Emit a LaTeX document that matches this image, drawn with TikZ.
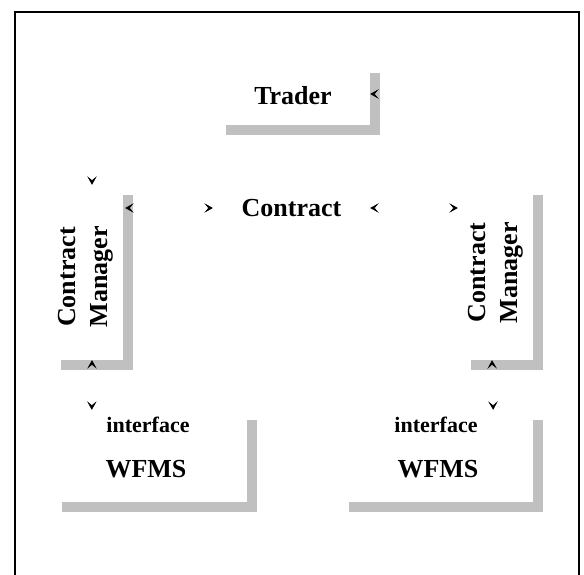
\documentclass[tikz,border=0pt]{standalone}
\usepackage{fontspec}
\setmainfont{Liberation Serif}
\usetikzlibrary{arrows.meta,shadows,decorations.markings,calc}
\definecolor{shadowgray}{RGB}{192,192,192}

\tikzset{
  panel/.style={rectangle, fill=white, draw=none, inner sep=0pt,
    drop shadow={shadow xshift=10pt, shadow yshift=-10pt,
                 fill=shadowgray, opacity=1}},
  bigtext/.style={font=\fontsize{26}{32}\selectfont\bfseries, inner sep=0pt},
  smalltext/.style={font=\fontsize{22}{26}\selectfont\bfseries, inner sep=0pt},
  headtip/.tip={Stealth[length=8.5pt,width=9.5pt,inset=4pt,line width=0.6pt]},
  link/.style={postaction={decorate},
    decoration={markings,
      mark=at position 0 with {\arrowreversed{headtip}},
      mark=at position 1 with {\arrow{headtip}}}},
}

\begin{document}
\begin{tikzpicture}[x=1pt,y=-1pt]
  \useasboundingbox (0,0) rectangle (584,575);

  % outer frame (open at the bottom edge)
  \draw[line width=2.5pt] (15,575) -- (15,12) -- (579,12) -- (579,575);

  % shadowed panels
  \node[panel, minimum width=154pt, minimum height=62pt]  (tr)  at (293,94)    {};
  \node[panel, minimum width=72pt,  minimum height=175pt] (cmL) at (87,272.5)  {};
  \node[panel, minimum width=72pt,  minimum height=175pt] (cmR) at (497,272.5) {};
  \node[panel, minimum width=195pt, minimum height=92pt]  (wfL) at (149.5,456) {};
  \node[panel, minimum width=194pt, minimum height=92pt]  (wfR) at (436,456)   {};

  % labels
  \node[bigtext] (trtext) at (293,96) {Trader};
  \node[bigtext, minimum width=157pt] (ctr) at (291.5,208) {Contract};
  \node[bigtext, rotate=90, align=center] (cmLtext) at (86,277) {Contract\\Manager};
  \node[bigtext, rotate=90, align=center] (cmRtext) at (495.5,272.5) {Contract\\Manager};
  \node[smalltext] (ifL) at (148,425) {interface};
  \node[bigtext]   (wfLtext) at (146,469.5) {WFMS};
  \node[smalltext] (ifR) at (436,425) {interface};
  \node[bigtext]   (wfRtext) at (438,469.5) {WFMS};

  % connectors (only their heads are shown)
  \path[link] ($(cmL.north)+(5,0)$) -- ++(0,-25) -| ($(tr.east)+(25,0)$) -- (tr.east);
  \path[link] ($(cmL.east |- ctr.west)+(2,0)$) -- (ctr.west);
  \path[link] (ctr.east) -- ($(cmR.west |- ctr.east)+(-3,0)$);
  \path[link] ($(cmL.south)+(5,0)$) -- ($(wfL.north west)+(40,0)$);
  \path[link] ($(cmR.south)+(-5,0)$) -- ($(wfR.north east)+(-40,0)$);
\end{tikzpicture}
\end{document}
